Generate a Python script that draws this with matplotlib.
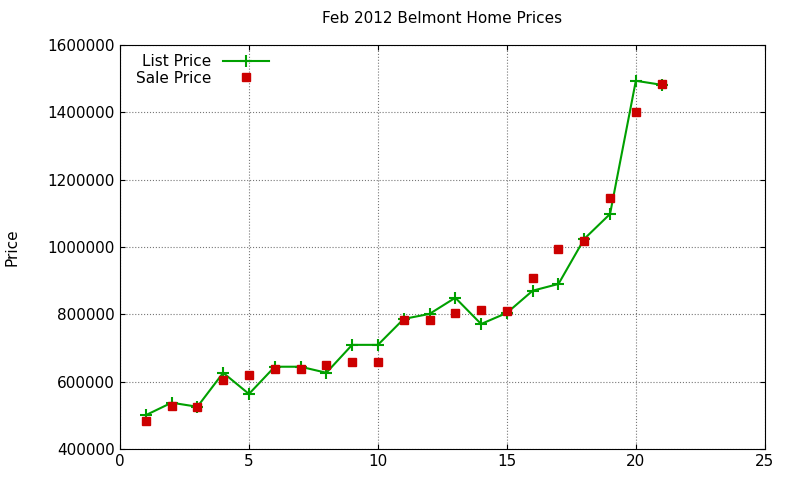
import matplotlib
matplotlib.use('Agg')
import matplotlib.pyplot as plt

homes = list(range(1, 22))
list_price = [500000, 537000, 525000, 626000, 563000, 644000, 644000, 626000, 709000, 709000,
              786000, 801000, 849000, 771000, 804000, 870000, 890000, 1024000, 1098000, 1494000, 1482000]
sale_price = [483000, 528000, 525000, 605000, 620000, 638000, 638000, 650000, 658000, 658000,
              783000, 783000, 804000, 813000, 810000, 908000, 994000, 1018000, 1146000, 1401000, 1485000]

fig = plt.figure(figsize=(8, 4.8), dpi=100)
ax = fig.add_axes([0.15, 0.065, 0.806, 0.841])

ax.plot(homes, list_price, color='#00a000', marker='+', markersize=8, linewidth=1.5,
        markeredgewidth=1.5, label='List Price')
ax.plot(homes, sale_price, linestyle='none', marker='s', color='#cc0000', markersize=6,
        label='Sale Price')

ax.set_xlim(0, 25)
ax.set_ylim(400000, 1600000)
ax.set_xticks(range(0, 26, 5))
ax.set_yticks(range(400000, 1600001, 200000))
ax.ticklabel_format(style='plain', axis='y')
ax.grid(True, linestyle=':', color='#777777', linewidth=0.8)
ax.tick_params(direction='in', labelsize=11, top=True, right=True)
ax.set_ylabel('Price', fontsize=11, labelpad=20)
ax.set_title('Feb 2012 Belmont Home Prices', fontsize=11, pad=16)

ax.legend(loc='upper left', markerfirst=False, frameon=False, fontsize=11,
          handlelength=3, borderaxespad=0.2, labelspacing=0.1, bbox_to_anchor=(0.01, 1.0))

plt.savefig('out.png', dpi=100)
